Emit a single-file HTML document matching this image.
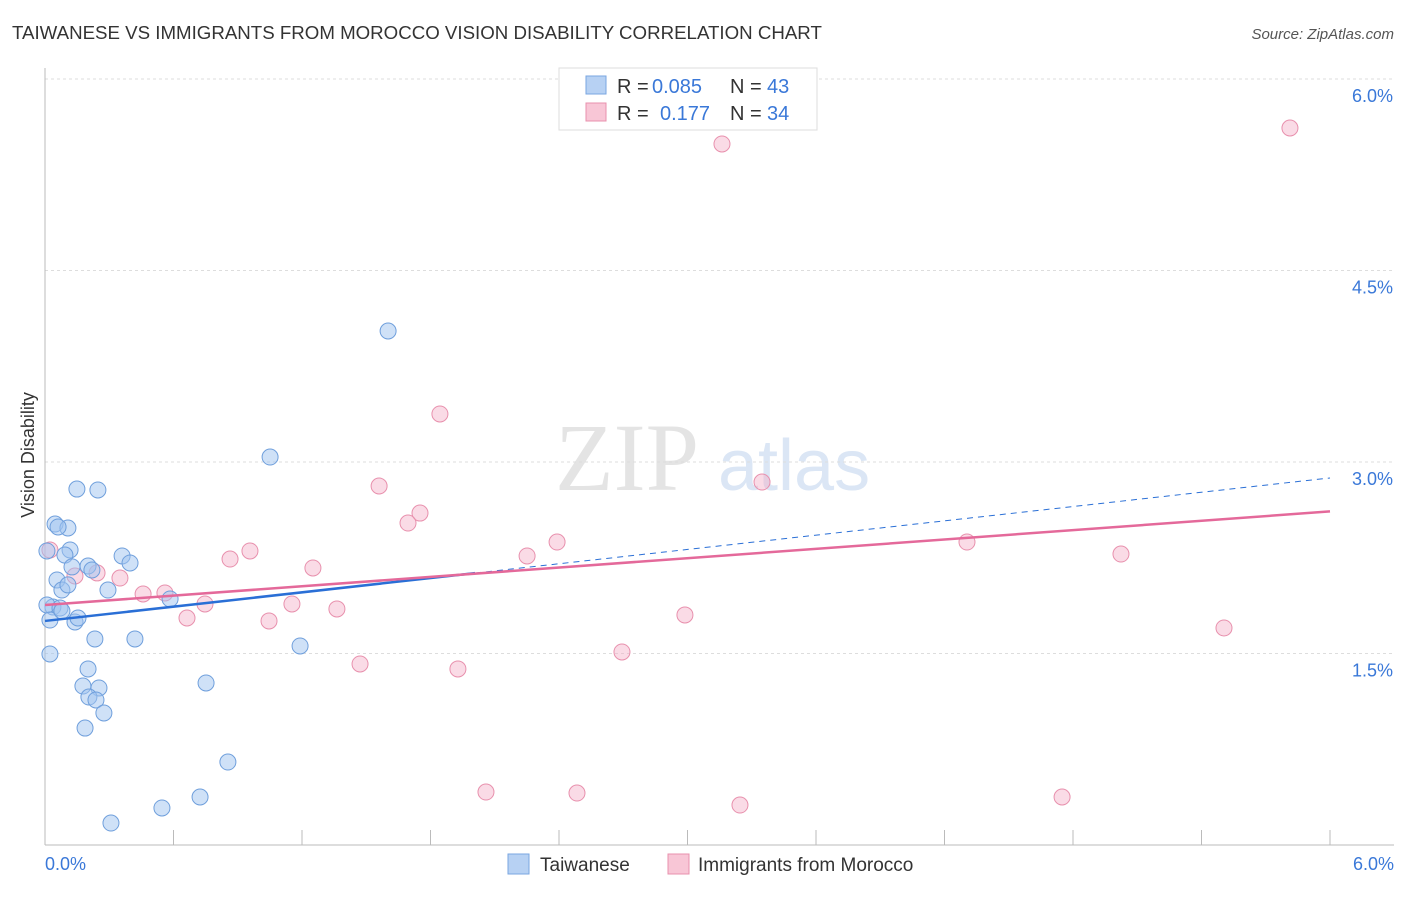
<!DOCTYPE html>
<html><head><meta charset="utf-8"><style>
body{margin:0;background:#fff;font-family:"Liberation Sans",sans-serif;}
</style></head><body>
<svg id="chart" width="1406" height="892" xmlns="http://www.w3.org/2000/svg" style="font-family:'Liberation Sans',sans-serif">
<text x="12" y="39" font-size="18.7" fill="#333">TAIWANESE VS IMMIGRANTS FROM MOROCCO VISION DISABILITY CORRELATION CHART</text>
<text x="1394" y="39" font-size="15" fill="#555" text-anchor="end" font-style="italic">Source: ZipAtlas.com</text>
<text x="555" y="490" font-size="96" fill="#e4e4e4" font-family="Liberation Serif">ZIP</text>
<text x="718" y="490" font-size="72" fill="#dbe6f5">atlas</text>
<g id="grid"></g>
<g id="axes"></g>
<g id="marks"></g>
<text transform="translate(34,455) rotate(-90)" font-size="18" fill="#333" text-anchor="middle">Vision Disability</text>
<g>
<rect x="559" y="68" width="258" height="62" fill="#fff" stroke="#ddd"/>
<rect x="586" y="76" width="20" height="18" fill="#b7d1f3" stroke="#7aa6e0"/>
<rect x="586" y="103" width="20" height="18" fill="#f8c6d6" stroke="#e890ad"/>
<text x="617" y="93" font-size="20" fill="#333">R =</text>
<text x="652" y="93" font-size="20" fill="#3a78d8">0.085</text>
<text x="730" y="93" font-size="20" fill="#333">N =</text>
<text x="767" y="93" font-size="20" fill="#3a78d8">43</text>
<text x="617" y="120" font-size="20" fill="#333">R =</text>
<text x="660" y="120" font-size="20" fill="#3a78d8">0.177</text>
<text x="730" y="120" font-size="20" fill="#333">N =</text>
<text x="767" y="120" font-size="20" fill="#3a78d8">34</text>
</g>
<g>
<rect x="508" y="854" width="21" height="20" fill="#b7d1f3" stroke="#7aa6e0"/>
<text x="540" y="871" font-size="19" fill="#333">Taiwanese</text>
<rect x="668" y="854" width="21" height="20" fill="#f8c6d6" stroke="#e890ad"/>
<text x="698" y="871" font-size="19" fill="#333">Immigrants from Morocco</text>
</g>
</svg>
<script>
const blueX=[.047,.107,.061,.009,.117,.093,.056,.126,.079,.107,.201,.219,.149,.247,.360,.397,.294,.584,.037,.009,.070,.023,.140,.154,.233,.420,.023,.201,.177,.252,.205,.238,.275,.187,.752,.854,.546,.724,.308,1.051,1.602,1.191,.079];
const blueY=[2.514,2.483,2.491,2.303,2.311,2.271,2.076,2.178,1.997,2.037,2.185,2.154,2.788,2.781,2.264,2.209,1.997,1.927,1.864,1.880,1.856,1.762,1.747,1.778,1.614,1.614,1.496,1.379,1.245,1.230,1.159,1.136,1.034,.916,1.269,.650,.290,.376,.172,3.039,4.026,1.559,1.833];
const pinkX=[5.813,3.161,1.844,1.560,3.348,1.751,1.695,2.391,2.251,4.305,5.024,.957,.864,1.251,.350,.243,.140,.458,.560,.747,.663,1.153,1.363,1.046,2.988,5.505,2.694,1.471,1.928,2.059,2.484,3.245,4.749,.023];
const pinkY=[5.616,5.491,3.376,2.812,2.843,2.600,2.522,2.373,2.264,2.373,2.279,2.303,2.240,2.170,2.091,2.131,2.107,1.966,1.974,1.888,1.778,1.888,1.849,1.755,1.802,1.700,1.512,1.418,1.379,.415,.407,.313,.376,2.311];
const yTicks=[1.5,3.0,4.5,6.0];
const yTickLabels=["1.5%","3.0%","4.5%","6.0%"];
const blueTrend=[1.755,2.875];
const pinkTrend=[1.88,2.613];
const xs=v=>45+v*1285/6, ys=v=>845-v*127.67;
const NS="http://www.w3.org/2000/svg";
function mk(t,a,p){const e=document.createElementNS(NS,t);for(const k in a)e.setAttribute(k,a[k]);p.appendChild(e);return e;}
const grid=document.getElementById('grid'),axes=document.getElementById('axes'),marks=document.getElementById('marks');
yTicks.forEach((t,i)=>{
 const l=mk('line',{x1:45,x2:1394,y1:ys(t),y2:ys(t),stroke:'#ddd','stroke-dasharray':'3,3'},grid);
 
 
 const tx=mk('text',{x:1393,y:ys(t)+23,'font-size':18,fill:'#3a78d8','text-anchor':'end'},axes);
 tx.textContent=yTickLabels[i];
 
 
});
const ax=mk('line',{x1:45,x2:45,y1:68,y2:845,stroke:'#bbb'},axes);


const bx=mk('line',{x1:45,x2:1394,y1:845,y2:845,stroke:'#bbb'},axes);


for(let i=1;i<=10;i++){const x=xs(i*0.6);const t=mk('line',{x1:x,x2:x,y1:830,y2:845,stroke:'#bbb'},axes);
 
 }
const x0=mk('text',{x:45,y:870,'font-size':18,fill:'#3a78d8'},axes);x0.textContent='0.0%';


const x6=mk('text',{x:1394,y:870,'font-size':18,fill:'#3a78d8','text-anchor':'end'},axes);x6.textContent='6.0%';


pinkX.forEach((v,i)=>{const c=mk('circle',{cx:xs(v),cy:ys(pinkY[i]),r:8,fill:'rgba(245,176,200,0.45)',stroke:'#e890ad','stroke-width':1},marks);
 
 });
blueX.forEach((v,i)=>{const c=mk('circle',{cx:xs(v),cy:ys(blueY[i]),r:8,fill:'rgba(160,195,240,0.5)',stroke:'#6f9fdc','stroke-width':1},marks);
 
 });
const bsEnd=2.008, bsY=blueTrend[0]+(blueTrend[1]-blueTrend[0])*bsEnd/6;
const b1=mk('line',{x1:xs(0),y1:ys(blueTrend[0]),x2:xs(bsEnd),y2:ys(bsY),stroke:'#2a6fd6','stroke-width':2.5},marks);


const b2=mk('line',{x1:xs(bsEnd),y1:ys(bsY),x2:xs(6),y2:ys(blueTrend[1]),stroke:'#2a6fd6','stroke-width':1,'stroke-dasharray':'6,5'},marks);


const p1=mk('line',{x1:xs(0),y1:ys(pinkTrend[0]),x2:xs(6),y2:ys(pinkTrend[1]),stroke:'#e4699a','stroke-width':2.5},marks);


</script>
</body></html>
